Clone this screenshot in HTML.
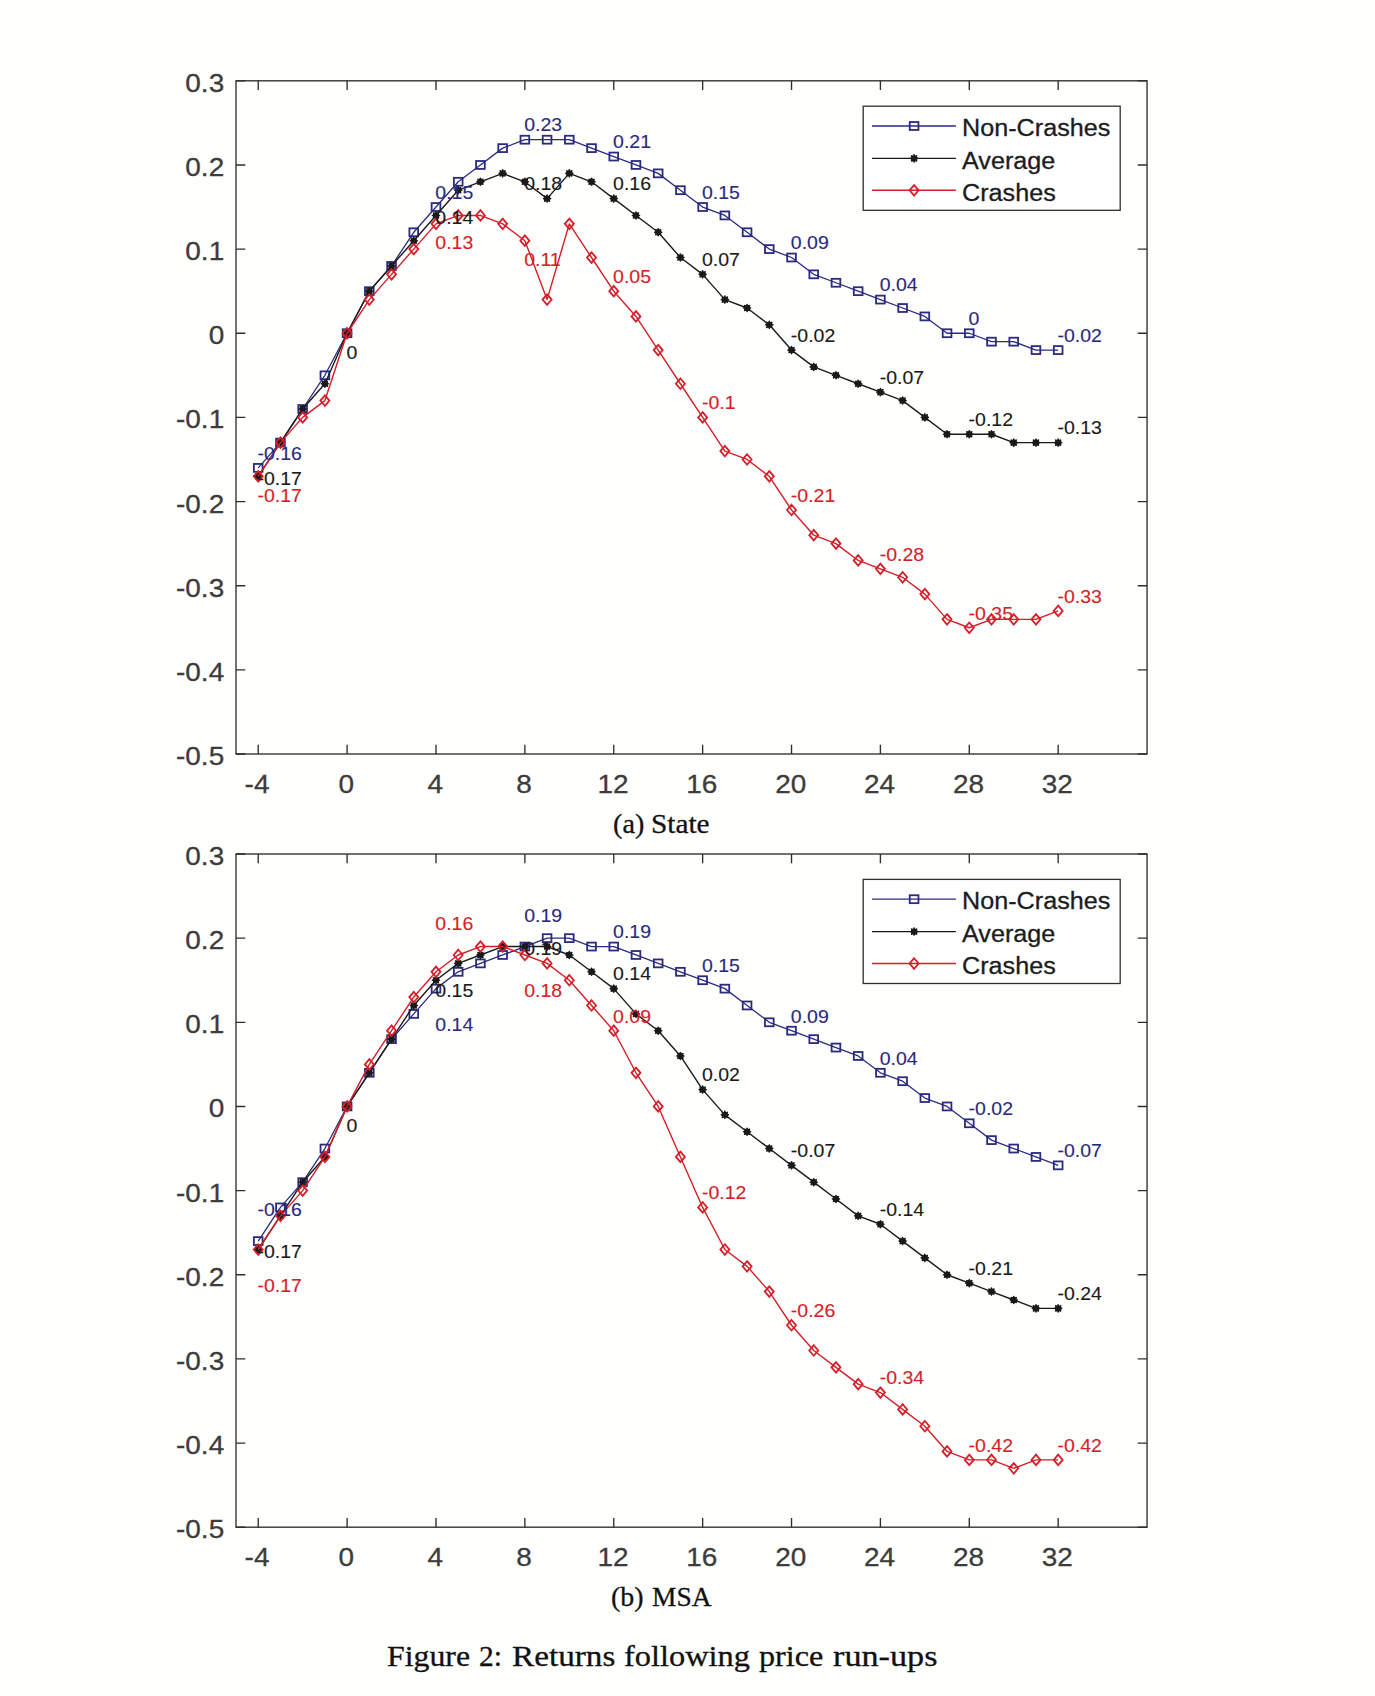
<!DOCTYPE html>
<html lang="en">
<head>
<meta charset="utf-8">
<title>Figure 2: Returns following price run-ups</title>
<style>
html,body{margin:0;padding:0;background:#fffffd;}
body{width:1375px;height:1696px;position:relative;overflow:hidden;font-family:"Liberation Serif","DejaVu Serif",serif;color:#111;}
figure{margin:0;}
svg{position:absolute;left:0;top:0;display:block;}
.cap{position:absolute;left:0;top:0;margin:0;}
.w{position:absolute;display:block;white-space:nowrap;line-height:1;transform-origin:0 0;-webkit-text-stroke:0.3px #111;}
</style>
</head>
<body>
<figure>
<svg width="1375" height="1696" viewBox="0 0 1375 1696" font-family="'Liberation Sans', Arial, Helvetica, sans-serif">
<g id="chart-a">
<polyline points="258.22,467.89 280.44,442.64 302.66,408.99 324.88,375.32 347.1,333.25 369.32,291.18 391.55,265.93 413.77,232.27 435.99,207.02 458.21,181.78 480.43,164.95 502.65,148.12 524.87,139.7 547.09,139.7 569.31,139.7 591.53,148.12 613.75,156.53 635.97,164.95 658.19,173.36 680.41,190.19 702.64,207.02 724.86,215.44 747.08,232.27 769.3,249.1 791.52,257.51 813.74,274.34 835.96,282.76 858.18,291.18 880.4,299.59 902.62,308 924.84,316.42 947.06,333.25 969.28,333.25 991.5,341.67 1013.73,341.67 1035.95,350.08 1058.17,350.08" fill="none" stroke="#2a2a80" stroke-width="1.3" stroke-linejoin="round"/>
<g fill="none" stroke="#2a2a80" stroke-width="1.8" stroke-linejoin="miter">
<rect x="253.87" y="463.94" width="8.7" height="7.9"/>
<rect x="276.09" y="438.69" width="8.7" height="7.9"/>
<rect x="298.31" y="405.04" width="8.7" height="7.9"/>
<rect x="320.53" y="371.38" width="8.7" height="7.9"/>
<rect x="342.75" y="329.3" width="8.7" height="7.9"/>
<rect x="364.97" y="287.23" width="8.7" height="7.9"/>
<rect x="387.2" y="261.98" width="8.7" height="7.9"/>
<rect x="409.42" y="228.32" width="8.7" height="7.9"/>
<rect x="431.64" y="203.07" width="8.7" height="7.9"/>
<rect x="453.86" y="177.83" width="8.7" height="7.9"/>
<rect x="476.08" y="161" width="8.7" height="7.9"/>
<rect x="498.3" y="144.17" width="8.7" height="7.9"/>
<rect x="520.52" y="135.75" width="8.7" height="7.9"/>
<rect x="542.74" y="135.75" width="8.7" height="7.9"/>
<rect x="564.96" y="135.75" width="8.7" height="7.9"/>
<rect x="587.18" y="144.17" width="8.7" height="7.9"/>
<rect x="609.4" y="152.59" width="8.7" height="7.9"/>
<rect x="631.62" y="161" width="8.7" height="7.9"/>
<rect x="653.84" y="169.41" width="8.7" height="7.9"/>
<rect x="676.06" y="186.25" width="8.7" height="7.9"/>
<rect x="698.29" y="203.07" width="8.7" height="7.9"/>
<rect x="720.51" y="211.49" width="8.7" height="7.9"/>
<rect x="742.73" y="228.32" width="8.7" height="7.9"/>
<rect x="764.95" y="245.15" width="8.7" height="7.9"/>
<rect x="787.17" y="253.56" width="8.7" height="7.9"/>
<rect x="809.39" y="270.39" width="8.7" height="7.9"/>
<rect x="831.61" y="278.81" width="8.7" height="7.9"/>
<rect x="853.83" y="287.23" width="8.7" height="7.9"/>
<rect x="876.05" y="295.64" width="8.7" height="7.9"/>
<rect x="898.27" y="304.06" width="8.7" height="7.9"/>
<rect x="920.49" y="312.47" width="8.7" height="7.9"/>
<rect x="942.71" y="329.3" width="8.7" height="7.9"/>
<rect x="964.93" y="329.3" width="8.7" height="7.9"/>
<rect x="987.15" y="337.72" width="8.7" height="7.9"/>
<rect x="1009.38" y="337.72" width="8.7" height="7.9"/>
<rect x="1031.6" y="346.13" width="8.7" height="7.9"/>
<rect x="1053.82" y="346.13" width="8.7" height="7.9"/>
</g>
<polyline points="258.22,476.31 280.44,442.64 302.66,408.99 324.88,383.74 347.1,333.25 369.32,291.18 391.55,265.93 413.77,240.69 435.99,215.44 458.21,190.19 480.43,181.78 502.65,173.36 524.87,181.78 547.09,198.61 569.31,173.36 591.53,181.78 613.75,198.61 635.97,215.44 658.19,232.27 680.41,257.51 702.64,274.34 724.86,299.59 747.08,308 769.3,324.83 791.52,350.08 813.74,366.91 835.96,375.32 858.18,383.74 880.4,392.16 902.62,400.57 924.84,417.4 947.06,434.23 969.28,434.23 991.5,434.23 1013.73,442.64 1035.95,442.64 1058.17,442.64" fill="none" stroke="#1a1a1a" stroke-width="1.4" stroke-linejoin="round"/>
<g fill="#1a1a1a" stroke="#1a1a1a" stroke-width="1.6" stroke-linecap="round">
<circle cx="258.22" cy="476.31" r="3.2" stroke="none"/><path d="M254.72 476.31L261.72 476.31M255.75 473.83L260.7 478.78M258.22 472.81L258.22 479.81M260.7 473.83L255.75 478.78"/>
<circle cx="280.44" cy="442.64" r="3.2" stroke="none"/><path d="M276.94 442.64L283.94 442.64M277.97 440.17L282.92 445.12M280.44 439.14L280.44 446.14M282.92 440.17L277.97 445.12"/>
<circle cx="302.66" cy="408.99" r="3.2" stroke="none"/><path d="M299.16 408.99L306.16 408.99M300.19 406.51L305.14 411.46M302.66 405.49L302.66 412.49M305.14 406.51L300.19 411.46"/>
<circle cx="324.88" cy="383.74" r="3.2" stroke="none"/><path d="M321.38 383.74L328.38 383.74M322.41 381.27L327.36 386.21M324.88 380.24L324.88 387.24M327.36 381.27L322.41 386.21"/>
<circle cx="347.1" cy="333.25" r="3.2" stroke="none"/><path d="M343.6 333.25L350.6 333.25M344.63 330.78L349.58 335.72M347.1 329.75L347.1 336.75M349.58 330.78L344.63 335.72"/>
<circle cx="369.32" cy="291.18" r="3.2" stroke="none"/><path d="M365.82 291.18L372.82 291.18M366.85 288.7L371.8 293.65M369.32 287.68L369.32 294.68M371.8 288.7L366.85 293.65"/>
<circle cx="391.55" cy="265.93" r="3.2" stroke="none"/><path d="M388.05 265.93L395.05 265.93M389.07 263.46L394.02 268.4M391.55 262.43L391.55 269.43M394.02 263.46L389.07 268.4"/>
<circle cx="413.77" cy="240.69" r="3.2" stroke="none"/><path d="M410.27 240.69L417.27 240.69M411.29 238.21L416.24 243.16M413.77 237.19L413.77 244.19M416.24 238.21L411.29 243.16"/>
<circle cx="435.99" cy="215.44" r="3.2" stroke="none"/><path d="M432.49 215.44L439.49 215.44M433.51 212.97L438.46 217.91M435.99 211.94L435.99 218.94M438.46 212.97L433.51 217.91"/>
<circle cx="458.21" cy="190.19" r="3.2" stroke="none"/><path d="M454.71 190.19L461.71 190.19M455.73 187.72L460.68 192.67M458.21 186.69L458.21 193.69M460.68 187.72L455.73 192.67"/>
<circle cx="480.43" cy="181.78" r="3.2" stroke="none"/><path d="M476.93 181.78L483.93 181.78M477.95 179.31L482.9 184.25M480.43 178.28L480.43 185.28M482.9 179.31L477.95 184.25"/>
<circle cx="502.65" cy="173.36" r="3.2" stroke="none"/><path d="M499.15 173.36L506.15 173.36M500.17 170.89L505.12 175.84M502.65 169.86L502.65 176.86M505.12 170.89L500.17 175.84"/>
<circle cx="524.87" cy="181.78" r="3.2" stroke="none"/><path d="M521.37 181.78L528.37 181.78M522.39 179.31L527.34 184.25M524.87 178.28L524.87 185.28M527.34 179.31L522.39 184.25"/>
<circle cx="547.09" cy="198.61" r="3.2" stroke="none"/><path d="M543.59 198.61L550.59 198.61M544.62 196.14L549.57 201.08M547.09 195.11L547.09 202.11M549.57 196.14L544.62 201.08"/>
<circle cx="569.31" cy="173.36" r="3.2" stroke="none"/><path d="M565.81 173.36L572.81 173.36M566.84 170.89L571.79 175.84M569.31 169.86L569.31 176.86M571.79 170.89L566.84 175.84"/>
<circle cx="591.53" cy="181.78" r="3.2" stroke="none"/><path d="M588.03 181.78L595.03 181.78M589.06 179.31L594.01 184.25M591.53 178.28L591.53 185.28M594.01 179.31L589.06 184.25"/>
<circle cx="613.75" cy="198.61" r="3.2" stroke="none"/><path d="M610.25 198.61L617.25 198.61M611.28 196.14L616.23 201.08M613.75 195.11L613.75 202.11M616.23 196.14L611.28 201.08"/>
<circle cx="635.97" cy="215.44" r="3.2" stroke="none"/><path d="M632.47 215.44L639.47 215.44M633.5 212.97L638.45 217.91M635.97 211.94L635.97 218.94M638.45 212.97L633.5 217.91"/>
<circle cx="658.19" cy="232.27" r="3.2" stroke="none"/><path d="M654.69 232.27L661.69 232.27M655.72 229.8L660.67 234.74M658.19 228.77L658.19 235.77M660.67 229.8L655.72 234.74"/>
<circle cx="680.41" cy="257.51" r="3.2" stroke="none"/><path d="M676.91 257.51L683.91 257.51M677.94 255.04L682.89 259.99M680.41 254.01L680.41 261.01M682.89 255.04L677.94 259.99"/>
<circle cx="702.64" cy="274.34" r="3.2" stroke="none"/><path d="M699.14 274.34L706.14 274.34M700.16 271.87L705.11 276.82M702.64 270.84L702.64 277.84M705.11 271.87L700.16 276.82"/>
<circle cx="724.86" cy="299.59" r="3.2" stroke="none"/><path d="M721.36 299.59L728.36 299.59M722.38 297.12L727.33 302.06M724.86 296.09L724.86 303.09M727.33 297.12L722.38 302.06"/>
<circle cx="747.08" cy="308" r="3.2" stroke="none"/><path d="M743.58 308L750.58 308M744.6 305.53L749.55 310.48M747.08 304.5L747.08 311.5M749.55 305.53L744.6 310.48"/>
<circle cx="769.3" cy="324.83" r="3.2" stroke="none"/><path d="M765.8 324.83L772.8 324.83M766.82 322.36L771.77 327.31M769.3 321.33L769.3 328.33M771.77 322.36L766.82 327.31"/>
<circle cx="791.52" cy="350.08" r="3.2" stroke="none"/><path d="M788.02 350.08L795.02 350.08M789.04 347.61L793.99 352.55M791.52 346.58L791.52 353.58M793.99 347.61L789.04 352.55"/>
<circle cx="813.74" cy="366.91" r="3.2" stroke="none"/><path d="M810.24 366.91L817.24 366.91M811.26 364.44L816.21 369.38M813.74 363.41L813.74 370.41M816.21 364.44L811.26 369.38"/>
<circle cx="835.96" cy="375.32" r="3.2" stroke="none"/><path d="M832.46 375.32L839.46 375.32M833.48 372.85L838.43 377.8M835.96 371.82L835.96 378.82M838.43 372.85L833.48 377.8"/>
<circle cx="858.18" cy="383.74" r="3.2" stroke="none"/><path d="M854.68 383.74L861.68 383.74M855.71 381.27L860.66 386.21M858.18 380.24L858.18 387.24M860.66 381.27L855.71 386.21"/>
<circle cx="880.4" cy="392.16" r="3.2" stroke="none"/><path d="M876.9 392.16L883.9 392.16M877.93 389.68L882.88 394.63M880.4 388.66L880.4 395.66M882.88 389.68L877.93 394.63"/>
<circle cx="902.62" cy="400.57" r="3.2" stroke="none"/><path d="M899.12 400.57L906.12 400.57M900.15 398.1L905.1 403.04M902.62 397.07L902.62 404.07M905.1 398.1L900.15 403.04"/>
<circle cx="924.84" cy="417.4" r="3.2" stroke="none"/><path d="M921.34 417.4L928.34 417.4M922.37 414.93L927.32 419.87M924.84 413.9L924.84 420.9M927.32 414.93L922.37 419.87"/>
<circle cx="947.06" cy="434.23" r="3.2" stroke="none"/><path d="M943.56 434.23L950.56 434.23M944.59 431.76L949.54 436.7M947.06 430.73L947.06 437.73M949.54 431.76L944.59 436.7"/>
<circle cx="969.28" cy="434.23" r="3.2" stroke="none"/><path d="M965.78 434.23L972.78 434.23M966.81 431.76L971.76 436.7M969.28 430.73L969.28 437.73M971.76 431.76L966.81 436.7"/>
<circle cx="991.5" cy="434.23" r="3.2" stroke="none"/><path d="M988 434.23L995 434.23M989.03 431.76L993.98 436.7M991.5 430.73L991.5 437.73M993.98 431.76L989.03 436.7"/>
<circle cx="1013.73" cy="442.64" r="3.2" stroke="none"/><path d="M1010.23 442.64L1017.23 442.64M1011.25 440.17L1016.2 445.12M1013.73 439.14L1013.73 446.14M1016.2 440.17L1011.25 445.12"/>
<circle cx="1035.95" cy="442.64" r="3.2" stroke="none"/><path d="M1032.45 442.64L1039.45 442.64M1033.47 440.17L1038.42 445.12M1035.95 439.14L1035.95 446.14M1038.42 440.17L1033.47 445.12"/>
<circle cx="1058.17" cy="442.64" r="3.2" stroke="none"/><path d="M1054.67 442.64L1061.67 442.64M1055.69 440.17L1060.64 445.12M1058.17 439.14L1058.17 446.14M1060.64 440.17L1055.69 445.12"/>
</g>
<polyline points="258.22,476.31 280.44,442.64 302.66,417.4 324.88,400.57 347.1,333.25 369.32,299.59 391.55,274.34 413.77,249.1 435.99,223.85 458.21,215.44 480.43,215.44 502.65,223.85 524.87,240.69 547.09,299.59 569.31,223.85 591.53,257.51 613.75,291.18 635.97,316.42 658.19,350.08 680.41,383.74 702.64,417.4 724.86,451.06 747.08,459.47 769.3,476.31 791.52,509.97 813.74,535.21 835.96,543.62 858.18,560.46 880.4,568.87 902.62,577.28 924.84,594.11 947.06,619.36 969.28,627.77 991.5,619.36 1013.73,619.36 1035.95,619.36 1058.17,610.94" fill="none" stroke="#d61d28" stroke-width="1.4" stroke-linejoin="round"/>
<g fill="none" stroke="#d61d28" stroke-width="1.8" stroke-linejoin="miter">
<path d="M258.22 471.06L262.72 476.31L258.22 481.56L253.72 476.31Z"/>
<path d="M280.44 437.39L284.94 442.64L280.44 447.89L275.94 442.64Z"/>
<path d="M302.66 412.15L307.16 417.4L302.66 422.65L298.16 417.4Z"/>
<path d="M324.88 395.32L329.38 400.57L324.88 405.82L320.38 400.57Z"/>
<path d="M347.1 328L351.6 333.25L347.1 338.5L342.6 333.25Z"/>
<path d="M369.32 294.34L373.82 299.59L369.32 304.84L364.82 299.59Z"/>
<path d="M391.55 269.09L396.05 274.34L391.55 279.59L387.05 274.34Z"/>
<path d="M413.77 243.85L418.27 249.1L413.77 254.35L409.27 249.1Z"/>
<path d="M435.99 218.6L440.49 223.85L435.99 229.1L431.49 223.85Z"/>
<path d="M458.21 210.19L462.71 215.44L458.21 220.69L453.71 215.44Z"/>
<path d="M480.43 210.19L484.93 215.44L480.43 220.69L475.93 215.44Z"/>
<path d="M502.65 218.6L507.15 223.85L502.65 229.1L498.15 223.85Z"/>
<path d="M524.87 235.44L529.37 240.69L524.87 245.94L520.37 240.69Z"/>
<path d="M547.09 294.34L551.59 299.59L547.09 304.84L542.59 299.59Z"/>
<path d="M569.31 218.6L573.81 223.85L569.31 229.1L564.81 223.85Z"/>
<path d="M591.53 252.26L596.03 257.51L591.53 262.76L587.03 257.51Z"/>
<path d="M613.75 285.93L618.25 291.18L613.75 296.43L609.25 291.18Z"/>
<path d="M635.97 311.17L640.47 316.42L635.97 321.67L631.47 316.42Z"/>
<path d="M658.19 344.83L662.69 350.08L658.19 355.33L653.69 350.08Z"/>
<path d="M680.41 378.49L684.91 383.74L680.41 388.99L675.91 383.74Z"/>
<path d="M702.64 412.15L707.14 417.4L702.64 422.65L698.14 417.4Z"/>
<path d="M724.86 445.81L729.36 451.06L724.86 456.31L720.36 451.06Z"/>
<path d="M747.08 454.22L751.58 459.47L747.08 464.72L742.58 459.47Z"/>
<path d="M769.3 471.06L773.8 476.31L769.3 481.56L764.8 476.31Z"/>
<path d="M791.52 504.72L796.02 509.97L791.52 515.22L787.02 509.97Z"/>
<path d="M813.74 529.96L818.24 535.21L813.74 540.46L809.24 535.21Z"/>
<path d="M835.96 538.38L840.46 543.62L835.96 548.88L831.46 543.62Z"/>
<path d="M858.18 555.21L862.68 560.46L858.18 565.71L853.68 560.46Z"/>
<path d="M880.4 563.62L884.9 568.87L880.4 574.12L875.9 568.87Z"/>
<path d="M902.62 572.03L907.12 577.28L902.62 582.53L898.12 577.28Z"/>
<path d="M924.84 588.86L929.34 594.11L924.84 599.36L920.34 594.11Z"/>
<path d="M947.06 614.11L951.56 619.36L947.06 624.61L942.56 619.36Z"/>
<path d="M969.28 622.52L973.78 627.77L969.28 633.02L964.78 627.77Z"/>
<path d="M991.5 614.11L996 619.36L991.5 624.61L987 619.36Z"/>
<path d="M1013.73 614.11L1018.23 619.36L1013.73 624.61L1009.23 619.36Z"/>
<path d="M1035.95 614.11L1040.45 619.36L1035.95 624.61L1031.45 619.36Z"/>
<path d="M1058.17 605.69L1062.67 610.94L1058.17 616.19L1053.67 610.94Z"/>
</g>
<g class="lbl">
<text transform="translate(257.52 459.67) scale(1.06 1)" font-size="18.4" fill="#2a2a80" stroke="#2a2a80" stroke-width="0.12" text-anchor="start">-0.16</text>
<text transform="translate(435.29 198.81) scale(1.06 1)" font-size="18.4" fill="#2a2a80" stroke="#2a2a80" stroke-width="0.12" text-anchor="start">0.15</text>
<text transform="translate(524.17 131.49) scale(1.06 1)" font-size="18.4" fill="#2a2a80" stroke="#2a2a80" stroke-width="0.12" text-anchor="start">0.23</text>
<text transform="translate(613.05 148.32) scale(1.06 1)" font-size="18.4" fill="#2a2a80" stroke="#2a2a80" stroke-width="0.12" text-anchor="start">0.21</text>
<text transform="translate(701.94 198.81) scale(1.06 1)" font-size="18.4" fill="#2a2a80" stroke="#2a2a80" stroke-width="0.12" text-anchor="start">0.15</text>
<text transform="translate(790.82 249.3) scale(1.06 1)" font-size="18.4" fill="#2a2a80" stroke="#2a2a80" stroke-width="0.12" text-anchor="start">0.09</text>
<text transform="translate(879.7 291.38) scale(1.06 1)" font-size="18.4" fill="#2a2a80" stroke="#2a2a80" stroke-width="0.12" text-anchor="start">0.04</text>
<text transform="translate(968.58 325.03) scale(1.06 1)" font-size="18.4" fill="#2a2a80" stroke="#2a2a80" stroke-width="0.12" text-anchor="start">0</text>
<text transform="translate(1057.47 341.87) scale(1.06 1)" font-size="18.4" fill="#2a2a80" stroke="#2a2a80" stroke-width="0.12" text-anchor="start">-0.02</text>
<text transform="translate(257.52 484.92) scale(1.06 1)" font-size="18.4" fill="#1a1a1a" stroke="#1a1a1a" stroke-width="0.12" text-anchor="start">-0.17</text>
<text transform="translate(346.4 358.69) scale(1.06 1)" font-size="18.4" fill="#1a1a1a" stroke="#1a1a1a" stroke-width="0.12" text-anchor="start">0</text>
<text transform="translate(435.29 224.05) scale(1.06 1)" font-size="18.4" fill="#1a1a1a" stroke="#1a1a1a" stroke-width="0.12" text-anchor="start">0.14</text>
<text transform="translate(524.17 190.39) scale(1.06 1)" font-size="18.4" fill="#1a1a1a" stroke="#1a1a1a" stroke-width="0.12" text-anchor="start">0.18</text>
<text transform="translate(613.05 189.9) scale(1.06 1)" font-size="18.4" fill="#1a1a1a" stroke="#1a1a1a" stroke-width="0.12" text-anchor="start">0.16</text>
<text transform="translate(701.94 266.13) scale(1.06 1)" font-size="18.4" fill="#1a1a1a" stroke="#1a1a1a" stroke-width="0.12" text-anchor="start">0.07</text>
<text transform="translate(790.82 341.87) scale(1.06 1)" font-size="18.4" fill="#1a1a1a" stroke="#1a1a1a" stroke-width="0.12" text-anchor="start">-0.02</text>
<text transform="translate(879.7 383.94) scale(1.06 1)" font-size="18.4" fill="#1a1a1a" stroke="#1a1a1a" stroke-width="0.12" text-anchor="start">-0.07</text>
<text transform="translate(968.58 426.01) scale(1.06 1)" font-size="18.4" fill="#1a1a1a" stroke="#1a1a1a" stroke-width="0.12" text-anchor="start">-0.12</text>
<text transform="translate(1057.47 434.43) scale(1.06 1)" font-size="18.4" fill="#1a1a1a" stroke="#1a1a1a" stroke-width="0.12" text-anchor="start">-0.13</text>
<text transform="translate(257.52 501.75) scale(1.06 1)" font-size="18.4" fill="#d61d28" stroke="#d61d28" stroke-width="0.12" text-anchor="start">-0.17</text>
<text transform="translate(435.29 249.3) scale(1.06 1)" font-size="18.4" fill="#d61d28" stroke="#d61d28" stroke-width="0.12" text-anchor="start">0.13</text>
<text transform="translate(524.17 266.13) scale(1.06 1)" font-size="18.4" fill="#d61d28" stroke="#d61d28" stroke-width="0.12" text-anchor="start">0.11</text>
<text transform="translate(613.05 282.96) scale(1.06 1)" font-size="18.4" fill="#d61d28" stroke="#d61d28" stroke-width="0.12" text-anchor="start">0.05</text>
<text transform="translate(701.94 409.19) scale(1.06 1)" font-size="18.4" fill="#d61d28" stroke="#d61d28" stroke-width="0.12" text-anchor="start">-0.1</text>
<text transform="translate(790.82 501.75) scale(1.06 1)" font-size="18.4" fill="#d61d28" stroke="#d61d28" stroke-width="0.12" text-anchor="start">-0.21</text>
<text transform="translate(879.7 560.66) scale(1.06 1)" font-size="18.4" fill="#d61d28" stroke="#d61d28" stroke-width="0.12" text-anchor="start">-0.28</text>
<text transform="translate(968.58 619.56) scale(1.06 1)" font-size="18.4" fill="#d61d28" stroke="#d61d28" stroke-width="0.12" text-anchor="start">-0.35</text>
<text transform="translate(1057.47 602.73) scale(1.06 1)" font-size="18.4" fill="#d61d28" stroke="#d61d28" stroke-width="0.12" text-anchor="start">-0.33</text>
</g>
<rect x="236.0" y="80.8" width="911.05" height="673.2" fill="none" stroke="#2e2e2e" stroke-width="1.35"/>
<path d="M258.22 754v-9.3M258.22 80.8v9.3M347.1 754v-9.3M347.1 80.8v9.3M435.99 754v-9.3M435.99 80.8v9.3M524.87 754v-9.3M524.87 80.8v9.3M613.75 754v-9.3M613.75 80.8v9.3M702.64 754v-9.3M702.64 80.8v9.3M791.52 754v-9.3M791.52 80.8v9.3M880.4 754v-9.3M880.4 80.8v9.3M969.28 754v-9.3M969.28 80.8v9.3M1058.17 754v-9.3M1058.17 80.8v9.3M236.0 80.8h9.3M1147.05 80.8h-9.3M236.0 164.95h9.3M1147.05 164.95h-9.3M236.0 249.1h9.3M1147.05 249.1h-9.3M236.0 333.25h9.3M1147.05 333.25h-9.3M236.0 417.4h9.3M1147.05 417.4h-9.3M236.0 501.55h9.3M1147.05 501.55h-9.3M236.0 585.7h9.3M1147.05 585.7h-9.3M236.0 669.85h9.3M1147.05 669.85h-9.3M236.0 754h9.3M1147.05 754h-9.3" fill="none" stroke="#2e2e2e" stroke-width="1.35"/>
<g class="tick">
<text transform="translate(257.02 792.9) scale(1.076 1)" font-size="26.0" fill="#3c3c3c" stroke="#3c3c3c" stroke-width="0.3" text-anchor="middle">-4</text>
<text transform="translate(346.3 792.9) scale(1.076 1)" font-size="26.0" fill="#3c3c3c" stroke="#3c3c3c" stroke-width="0.3" text-anchor="middle">0</text>
<text transform="translate(435.19 792.9) scale(1.076 1)" font-size="26.0" fill="#3c3c3c" stroke="#3c3c3c" stroke-width="0.3" text-anchor="middle">4</text>
<text transform="translate(524.07 792.9) scale(1.076 1)" font-size="26.0" fill="#3c3c3c" stroke="#3c3c3c" stroke-width="0.3" text-anchor="middle">8</text>
<text transform="translate(612.95 792.9) scale(1.076 1)" font-size="26.0" fill="#3c3c3c" stroke="#3c3c3c" stroke-width="0.3" text-anchor="middle">12</text>
<text transform="translate(701.84 792.9) scale(1.076 1)" font-size="26.0" fill="#3c3c3c" stroke="#3c3c3c" stroke-width="0.3" text-anchor="middle">16</text>
<text transform="translate(790.72 792.9) scale(1.076 1)" font-size="26.0" fill="#3c3c3c" stroke="#3c3c3c" stroke-width="0.3" text-anchor="middle">20</text>
<text transform="translate(879.6 792.9) scale(1.076 1)" font-size="26.0" fill="#3c3c3c" stroke="#3c3c3c" stroke-width="0.3" text-anchor="middle">24</text>
<text transform="translate(968.48 792.9) scale(1.076 1)" font-size="26.0" fill="#3c3c3c" stroke="#3c3c3c" stroke-width="0.3" text-anchor="middle">28</text>
<text transform="translate(1057.37 792.9) scale(1.076 1)" font-size="26.0" fill="#3c3c3c" stroke="#3c3c3c" stroke-width="0.3" text-anchor="middle">32</text>
<text transform="translate(224.2 91.8) scale(1.076 1)" font-size="26.0" fill="#3c3c3c" stroke="#3c3c3c" stroke-width="0.3" text-anchor="end">0.3</text>
<text transform="translate(224.2 175.95) scale(1.076 1)" font-size="26.0" fill="#3c3c3c" stroke="#3c3c3c" stroke-width="0.3" text-anchor="end">0.2</text>
<text transform="translate(224.2 260.1) scale(1.076 1)" font-size="26.0" fill="#3c3c3c" stroke="#3c3c3c" stroke-width="0.3" text-anchor="end">0.1</text>
<text transform="translate(224.2 344.25) scale(1.076 1)" font-size="26.0" fill="#3c3c3c" stroke="#3c3c3c" stroke-width="0.3" text-anchor="end">0</text>
<text transform="translate(224.2 428.4) scale(1.076 1)" font-size="26.0" fill="#3c3c3c" stroke="#3c3c3c" stroke-width="0.3" text-anchor="end">-0.1</text>
<text transform="translate(224.2 512.55) scale(1.076 1)" font-size="26.0" fill="#3c3c3c" stroke="#3c3c3c" stroke-width="0.3" text-anchor="end">-0.2</text>
<text transform="translate(224.2 596.7) scale(1.076 1)" font-size="26.0" fill="#3c3c3c" stroke="#3c3c3c" stroke-width="0.3" text-anchor="end">-0.3</text>
<text transform="translate(224.2 680.85) scale(1.076 1)" font-size="26.0" fill="#3c3c3c" stroke="#3c3c3c" stroke-width="0.3" text-anchor="end">-0.4</text>
<text transform="translate(224.2 765) scale(1.076 1)" font-size="26.0" fill="#3c3c3c" stroke="#3c3c3c" stroke-width="0.3" text-anchor="end">-0.5</text>
</g>
<rect x="863.2" y="106.2" width="257" height="104.1" fill="#fff" stroke="#2e2e2e" stroke-width="1.3"/>
<line x1="872" y1="126" x2="955.9" y2="126" stroke="#2a2a80" stroke-width="1.3"/>
<g fill="none" stroke="#2a2a80" stroke-width="1.8"><rect x="909.75" y="122.05" width="8.7" height="7.9"/></g>
<text transform="translate(962 135.8) scale(1.095 1)" font-size="23.0" fill="#1c1c1c" stroke="#1c1c1c" stroke-width="0.3" text-anchor="start">Non-Crashes</text>
<line x1="872" y1="158.4" x2="955.9" y2="158.4" stroke="#1a1a1a" stroke-width="1.4"/>
<g fill="#1a1a1a" stroke="#1a1a1a" stroke-width="1.6" stroke-linecap="round"><circle cx="914.1" cy="158.4" r="3.2" stroke="none"/><path d="M910.6 158.4L917.6 158.4M911.63 155.93L916.57 160.87M914.1 154.9L914.1 161.9M916.57 155.93L911.63 160.87"/></g>
<text transform="translate(962 168.7) scale(1.095 1)" font-size="23.0" fill="#1c1c1c" stroke="#1c1c1c" stroke-width="0.3" text-anchor="start">Average</text>
<line x1="872" y1="190.3" x2="955.9" y2="190.3" stroke="#d61d28" stroke-width="1.4"/>
<g fill="none" stroke="#d61d28" stroke-width="1.8"><path d="M914.1 185.05L918.6 190.3L914.1 195.55L909.6 190.3Z"/></g>
<text transform="translate(962 201) scale(1.095 1)" font-size="23.0" fill="#1c1c1c" stroke="#1c1c1c" stroke-width="0.3" text-anchor="start">Crashes</text>
</g>
<g id="chart-b">
<polyline points="258.22,1241.09 280.44,1207.43 302.66,1182.18 324.88,1148.53 347.1,1106.45 369.32,1072.79 391.55,1039.13 413.77,1013.88 435.99,988.64 458.21,971.81 480.43,963.39 502.65,954.98 524.87,946.56 547.09,938.15 569.31,938.15 591.53,946.56 613.75,946.56 635.97,954.98 658.19,963.39 680.41,971.81 702.64,980.23 724.86,988.64 747.08,1005.47 769.3,1022.3 791.52,1030.71 813.74,1039.13 835.96,1047.55 858.18,1055.96 880.4,1072.79 902.62,1081.2 924.84,1098.04 947.06,1106.45 969.28,1123.28 991.5,1140.11 1013.73,1148.53 1035.95,1156.94 1058.17,1165.36" fill="none" stroke="#2a2a80" stroke-width="1.3" stroke-linejoin="round"/>
<g fill="none" stroke="#2a2a80" stroke-width="1.8" stroke-linejoin="miter">
<rect x="253.87" y="1237.14" width="8.7" height="7.9"/>
<rect x="276.09" y="1203.48" width="8.7" height="7.9"/>
<rect x="298.31" y="1178.23" width="8.7" height="7.9"/>
<rect x="320.53" y="1144.58" width="8.7" height="7.9"/>
<rect x="342.75" y="1102.5" width="8.7" height="7.9"/>
<rect x="364.97" y="1068.84" width="8.7" height="7.9"/>
<rect x="387.2" y="1035.18" width="8.7" height="7.9"/>
<rect x="409.42" y="1009.93" width="8.7" height="7.9"/>
<rect x="431.64" y="984.69" width="8.7" height="7.9"/>
<rect x="453.86" y="967.86" width="8.7" height="7.9"/>
<rect x="476.08" y="959.44" width="8.7" height="7.9"/>
<rect x="498.3" y="951.03" width="8.7" height="7.9"/>
<rect x="520.52" y="942.61" width="8.7" height="7.9"/>
<rect x="542.74" y="934.2" width="8.7" height="7.9"/>
<rect x="564.96" y="934.2" width="8.7" height="7.9"/>
<rect x="587.18" y="942.61" width="8.7" height="7.9"/>
<rect x="609.4" y="942.61" width="8.7" height="7.9"/>
<rect x="631.62" y="951.03" width="8.7" height="7.9"/>
<rect x="653.84" y="959.44" width="8.7" height="7.9"/>
<rect x="676.06" y="967.86" width="8.7" height="7.9"/>
<rect x="698.29" y="976.27" width="8.7" height="7.9"/>
<rect x="720.51" y="984.69" width="8.7" height="7.9"/>
<rect x="742.73" y="1001.52" width="8.7" height="7.9"/>
<rect x="764.95" y="1018.35" width="8.7" height="7.9"/>
<rect x="787.17" y="1026.76" width="8.7" height="7.9"/>
<rect x="809.39" y="1035.18" width="8.7" height="7.9"/>
<rect x="831.61" y="1043.6" width="8.7" height="7.9"/>
<rect x="853.83" y="1052.01" width="8.7" height="7.9"/>
<rect x="876.05" y="1068.84" width="8.7" height="7.9"/>
<rect x="898.27" y="1077.25" width="8.7" height="7.9"/>
<rect x="920.49" y="1094.09" width="8.7" height="7.9"/>
<rect x="942.71" y="1102.5" width="8.7" height="7.9"/>
<rect x="964.93" y="1119.33" width="8.7" height="7.9"/>
<rect x="987.15" y="1136.16" width="8.7" height="7.9"/>
<rect x="1009.38" y="1144.58" width="8.7" height="7.9"/>
<rect x="1031.6" y="1152.99" width="8.7" height="7.9"/>
<rect x="1053.82" y="1161.4" width="8.7" height="7.9"/>
</g>
<polyline points="258.22,1249.51 280.44,1215.85 302.66,1182.18 324.88,1156.94 347.1,1106.45 369.32,1072.79 391.55,1039.13 413.77,1005.47 435.99,980.23 458.21,963.39 480.43,954.98 502.65,946.56 524.87,946.56 547.09,946.56 569.31,954.98 591.53,971.81 613.75,988.64 635.97,1013.88 658.19,1030.71 680.41,1055.96 702.64,1089.62 724.86,1114.87 747.08,1131.69 769.3,1148.53 791.52,1165.36 813.74,1182.18 835.96,1199.01 858.18,1215.85 880.4,1224.26 902.62,1241.09 924.84,1257.92 947.06,1274.75 969.28,1283.16 991.5,1291.58 1013.73,1299.99 1035.95,1308.41 1058.17,1308.41" fill="none" stroke="#1a1a1a" stroke-width="1.4" stroke-linejoin="round"/>
<g fill="#1a1a1a" stroke="#1a1a1a" stroke-width="1.6" stroke-linecap="round">
<circle cx="258.22" cy="1249.51" r="3.2" stroke="none"/><path d="M254.72 1249.51L261.72 1249.51M255.75 1247.03L260.7 1251.98M258.22 1246.01L258.22 1253.01M260.7 1247.03L255.75 1251.98"/>
<circle cx="280.44" cy="1215.85" r="3.2" stroke="none"/><path d="M276.94 1215.85L283.94 1215.85M277.97 1213.37L282.92 1218.32M280.44 1212.35L280.44 1219.35M282.92 1213.37L277.97 1218.32"/>
<circle cx="302.66" cy="1182.18" r="3.2" stroke="none"/><path d="M299.16 1182.18L306.16 1182.18M300.19 1179.71L305.14 1184.66M302.66 1178.68L302.66 1185.68M305.14 1179.71L300.19 1184.66"/>
<circle cx="324.88" cy="1156.94" r="3.2" stroke="none"/><path d="M321.38 1156.94L328.38 1156.94M322.41 1154.47L327.36 1159.41M324.88 1153.44L324.88 1160.44M327.36 1154.47L322.41 1159.41"/>
<circle cx="347.1" cy="1106.45" r="3.2" stroke="none"/><path d="M343.6 1106.45L350.6 1106.45M344.63 1103.98L349.58 1108.92M347.1 1102.95L347.1 1109.95M349.58 1103.98L344.63 1108.92"/>
<circle cx="369.32" cy="1072.79" r="3.2" stroke="none"/><path d="M365.82 1072.79L372.82 1072.79M366.85 1070.32L371.8 1075.26M369.32 1069.29L369.32 1076.29M371.8 1070.32L366.85 1075.26"/>
<circle cx="391.55" cy="1039.13" r="3.2" stroke="none"/><path d="M388.05 1039.13L395.05 1039.13M389.07 1036.66L394.02 1041.6M391.55 1035.63L391.55 1042.63M394.02 1036.66L389.07 1041.6"/>
<circle cx="413.77" cy="1005.47" r="3.2" stroke="none"/><path d="M410.27 1005.47L417.27 1005.47M411.29 1003L416.24 1007.94M413.77 1001.97L413.77 1008.97M416.24 1003L411.29 1007.94"/>
<circle cx="435.99" cy="980.23" r="3.2" stroke="none"/><path d="M432.49 980.23L439.49 980.23M433.51 977.75L438.46 982.7M435.99 976.73L435.99 983.73M438.46 977.75L433.51 982.7"/>
<circle cx="458.21" cy="963.39" r="3.2" stroke="none"/><path d="M454.71 963.39L461.71 963.39M455.73 960.92L460.68 965.87M458.21 959.89L458.21 966.89M460.68 960.92L455.73 965.87"/>
<circle cx="480.43" cy="954.98" r="3.2" stroke="none"/><path d="M476.93 954.98L483.93 954.98M477.95 952.51L482.9 957.45M480.43 951.48L480.43 958.48M482.9 952.51L477.95 957.45"/>
<circle cx="502.65" cy="946.56" r="3.2" stroke="none"/><path d="M499.15 946.56L506.15 946.56M500.17 944.09L505.12 949.04M502.65 943.06L502.65 950.06M505.12 944.09L500.17 949.04"/>
<circle cx="524.87" cy="946.56" r="3.2" stroke="none"/><path d="M521.37 946.56L528.37 946.56M522.39 944.09L527.34 949.04M524.87 943.06L524.87 950.06M527.34 944.09L522.39 949.04"/>
<circle cx="547.09" cy="946.56" r="3.2" stroke="none"/><path d="M543.59 946.56L550.59 946.56M544.62 944.09L549.57 949.04M547.09 943.06L547.09 950.06M549.57 944.09L544.62 949.04"/>
<circle cx="569.31" cy="954.98" r="3.2" stroke="none"/><path d="M565.81 954.98L572.81 954.98M566.84 952.51L571.79 957.45M569.31 951.48L569.31 958.48M571.79 952.51L566.84 957.45"/>
<circle cx="591.53" cy="971.81" r="3.2" stroke="none"/><path d="M588.03 971.81L595.03 971.81M589.06 969.34L594.01 974.28M591.53 968.31L591.53 975.31M594.01 969.34L589.06 974.28"/>
<circle cx="613.75" cy="988.64" r="3.2" stroke="none"/><path d="M610.25 988.64L617.25 988.64M611.28 986.17L616.23 991.11M613.75 985.14L613.75 992.14M616.23 986.17L611.28 991.11"/>
<circle cx="635.97" cy="1013.88" r="3.2" stroke="none"/><path d="M632.47 1013.88L639.47 1013.88M633.5 1011.41L638.45 1016.36M635.97 1010.38L635.97 1017.38M638.45 1011.41L633.5 1016.36"/>
<circle cx="658.19" cy="1030.71" r="3.2" stroke="none"/><path d="M654.69 1030.71L661.69 1030.71M655.72 1028.24L660.67 1033.19M658.19 1027.21L658.19 1034.21M660.67 1028.24L655.72 1033.19"/>
<circle cx="680.41" cy="1055.96" r="3.2" stroke="none"/><path d="M676.91 1055.96L683.91 1055.96M677.94 1053.49L682.89 1058.43M680.41 1052.46L680.41 1059.46M682.89 1053.49L677.94 1058.43"/>
<circle cx="702.64" cy="1089.62" r="3.2" stroke="none"/><path d="M699.14 1089.62L706.14 1089.62M700.16 1087.15L705.11 1092.09M702.64 1086.12L702.64 1093.12M705.11 1087.15L700.16 1092.09"/>
<circle cx="724.86" cy="1114.87" r="3.2" stroke="none"/><path d="M721.36 1114.87L728.36 1114.87M722.38 1112.39L727.33 1117.34M724.86 1111.37L724.86 1118.37M727.33 1112.39L722.38 1117.34"/>
<circle cx="747.08" cy="1131.69" r="3.2" stroke="none"/><path d="M743.58 1131.69L750.58 1131.69M744.6 1129.22L749.55 1134.17M747.08 1128.19L747.08 1135.19M749.55 1129.22L744.6 1134.17"/>
<circle cx="769.3" cy="1148.53" r="3.2" stroke="none"/><path d="M765.8 1148.53L772.8 1148.53M766.82 1146.05L771.77 1151M769.3 1145.03L769.3 1152.03M771.77 1146.05L766.82 1151"/>
<circle cx="791.52" cy="1165.36" r="3.2" stroke="none"/><path d="M788.02 1165.36L795.02 1165.36M789.04 1162.88L793.99 1167.83M791.52 1161.86L791.52 1168.86M793.99 1162.88L789.04 1167.83"/>
<circle cx="813.74" cy="1182.18" r="3.2" stroke="none"/><path d="M810.24 1182.18L817.24 1182.18M811.26 1179.71L816.21 1184.66M813.74 1178.68L813.74 1185.68M816.21 1179.71L811.26 1184.66"/>
<circle cx="835.96" cy="1199.01" r="3.2" stroke="none"/><path d="M832.46 1199.01L839.46 1199.01M833.48 1196.54L838.43 1201.49M835.96 1195.51L835.96 1202.51M838.43 1196.54L833.48 1201.49"/>
<circle cx="858.18" cy="1215.85" r="3.2" stroke="none"/><path d="M854.68 1215.85L861.68 1215.85M855.71 1213.37L860.66 1218.32M858.18 1212.35L858.18 1219.35M860.66 1213.37L855.71 1218.32"/>
<circle cx="880.4" cy="1224.26" r="3.2" stroke="none"/><path d="M876.9 1224.26L883.9 1224.26M877.93 1221.79L882.88 1226.73M880.4 1220.76L880.4 1227.76M882.88 1221.79L877.93 1226.73"/>
<circle cx="902.62" cy="1241.09" r="3.2" stroke="none"/><path d="M899.12 1241.09L906.12 1241.09M900.15 1238.62L905.1 1243.56M902.62 1237.59L902.62 1244.59M905.1 1238.62L900.15 1243.56"/>
<circle cx="924.84" cy="1257.92" r="3.2" stroke="none"/><path d="M921.34 1257.92L928.34 1257.92M922.37 1255.45L927.32 1260.39M924.84 1254.42L924.84 1261.42M927.32 1255.45L922.37 1260.39"/>
<circle cx="947.06" cy="1274.75" r="3.2" stroke="none"/><path d="M943.56 1274.75L950.56 1274.75M944.59 1272.28L949.54 1277.22M947.06 1271.25L947.06 1278.25M949.54 1272.28L944.59 1277.22"/>
<circle cx="969.28" cy="1283.16" r="3.2" stroke="none"/><path d="M965.78 1283.16L972.78 1283.16M966.81 1280.69L971.76 1285.64M969.28 1279.66L969.28 1286.66M971.76 1280.69L966.81 1285.64"/>
<circle cx="991.5" cy="1291.58" r="3.2" stroke="none"/><path d="M988 1291.58L995 1291.58M989.03 1289.11L993.98 1294.05M991.5 1288.08L991.5 1295.08M993.98 1289.11L989.03 1294.05"/>
<circle cx="1013.73" cy="1299.99" r="3.2" stroke="none"/><path d="M1010.23 1299.99L1017.23 1299.99M1011.25 1297.52L1016.2 1302.47M1013.73 1296.49L1013.73 1303.49M1016.2 1297.52L1011.25 1302.47"/>
<circle cx="1035.95" cy="1308.41" r="3.2" stroke="none"/><path d="M1032.45 1308.41L1039.45 1308.41M1033.47 1305.94L1038.42 1310.88M1035.95 1304.91L1035.95 1311.91M1038.42 1305.94L1033.47 1310.88"/>
<circle cx="1058.17" cy="1308.41" r="3.2" stroke="none"/><path d="M1054.67 1308.41L1061.67 1308.41M1055.69 1305.94L1060.64 1310.88M1058.17 1304.91L1058.17 1311.91M1060.64 1305.94L1055.69 1310.88"/>
</g>
<polyline points="258.22,1249.51 280.44,1215.85 302.66,1190.6 324.88,1156.94 347.1,1106.45 369.32,1064.38 391.55,1030.71 413.77,997.05 435.99,971.81 458.21,954.98 480.43,946.56 502.65,946.56 524.87,954.98 547.09,963.39 569.31,980.23 591.53,1005.47 613.75,1030.71 635.97,1072.79 658.19,1106.45 680.41,1156.94 702.64,1207.43 724.86,1249.51 747.08,1266.34 769.3,1291.58 791.52,1325.24 813.74,1350.48 835.96,1367.32 858.18,1384.14 880.4,1392.56 902.62,1409.39 924.84,1426.22 947.06,1451.46 969.28,1459.88 991.5,1459.88 1013.73,1468.3 1035.95,1459.88 1058.17,1459.88" fill="none" stroke="#d61d28" stroke-width="1.4" stroke-linejoin="round"/>
<g fill="none" stroke="#d61d28" stroke-width="1.8" stroke-linejoin="miter">
<path d="M258.22 1244.26L262.72 1249.51L258.22 1254.76L253.72 1249.51Z"/>
<path d="M280.44 1210.6L284.94 1215.85L280.44 1221.1L275.94 1215.85Z"/>
<path d="M302.66 1185.35L307.16 1190.6L302.66 1195.85L298.16 1190.6Z"/>
<path d="M324.88 1151.69L329.38 1156.94L324.88 1162.19L320.38 1156.94Z"/>
<path d="M347.1 1101.2L351.6 1106.45L347.1 1111.7L342.6 1106.45Z"/>
<path d="M369.32 1059.12L373.82 1064.38L369.32 1069.62L364.82 1064.38Z"/>
<path d="M391.55 1025.46L396.05 1030.71L391.55 1035.96L387.05 1030.71Z"/>
<path d="M413.77 991.8L418.27 997.05L413.77 1002.3L409.27 997.05Z"/>
<path d="M435.99 966.56L440.49 971.81L435.99 977.06L431.49 971.81Z"/>
<path d="M458.21 949.73L462.71 954.98L458.21 960.23L453.71 954.98Z"/>
<path d="M480.43 941.31L484.93 946.56L480.43 951.81L475.93 946.56Z"/>
<path d="M502.65 941.31L507.15 946.56L502.65 951.81L498.15 946.56Z"/>
<path d="M524.87 949.73L529.37 954.98L524.87 960.23L520.37 954.98Z"/>
<path d="M547.09 958.14L551.59 963.39L547.09 968.64L542.59 963.39Z"/>
<path d="M569.31 974.98L573.81 980.23L569.31 985.48L564.81 980.23Z"/>
<path d="M591.53 1000.22L596.03 1005.47L591.53 1010.72L587.03 1005.47Z"/>
<path d="M613.75 1025.46L618.25 1030.71L613.75 1035.96L609.25 1030.71Z"/>
<path d="M635.97 1067.54L640.47 1072.79L635.97 1078.04L631.47 1072.79Z"/>
<path d="M658.19 1101.2L662.69 1106.45L658.19 1111.7L653.69 1106.45Z"/>
<path d="M680.41 1151.69L684.91 1156.94L680.41 1162.19L675.91 1156.94Z"/>
<path d="M702.64 1202.18L707.14 1207.43L702.64 1212.68L698.14 1207.43Z"/>
<path d="M724.86 1244.26L729.36 1249.51L724.86 1254.76L720.36 1249.51Z"/>
<path d="M747.08 1261.09L751.58 1266.34L747.08 1271.59L742.58 1266.34Z"/>
<path d="M769.3 1286.33L773.8 1291.58L769.3 1296.83L764.8 1291.58Z"/>
<path d="M791.52 1319.99L796.02 1325.24L791.52 1330.49L787.02 1325.24Z"/>
<path d="M813.74 1345.23L818.24 1350.48L813.74 1355.73L809.24 1350.48Z"/>
<path d="M835.96 1362.07L840.46 1367.32L835.96 1372.57L831.46 1367.32Z"/>
<path d="M858.18 1378.89L862.68 1384.14L858.18 1389.39L853.68 1384.14Z"/>
<path d="M880.4 1387.31L884.9 1392.56L880.4 1397.81L875.9 1392.56Z"/>
<path d="M902.62 1404.14L907.12 1409.39L902.62 1414.64L898.12 1409.39Z"/>
<path d="M924.84 1420.97L929.34 1426.22L924.84 1431.47L920.34 1426.22Z"/>
<path d="M947.06 1446.21L951.56 1451.46L947.06 1456.71L942.56 1451.46Z"/>
<path d="M969.28 1454.63L973.78 1459.88L969.28 1465.13L964.78 1459.88Z"/>
<path d="M991.5 1454.63L996 1459.88L991.5 1465.13L987 1459.88Z"/>
<path d="M1013.73 1463.05L1018.23 1468.3L1013.73 1473.55L1009.23 1468.3Z"/>
<path d="M1035.95 1454.63L1040.45 1459.88L1035.95 1465.13L1031.45 1459.88Z"/>
<path d="M1058.17 1454.63L1062.67 1459.88L1058.17 1465.13L1053.67 1459.88Z"/>
</g>
<g class="lbl">
<text transform="translate(257.52 1216.05) scale(1.06 1)" font-size="18.4" fill="#2a2a80" stroke="#2a2a80" stroke-width="0.12" text-anchor="start">-0.16</text>
<text transform="translate(435.29 1030.91) scale(1.06 1)" font-size="18.4" fill="#2a2a80" stroke="#2a2a80" stroke-width="0.12" text-anchor="start">0.14</text>
<text transform="translate(524.17 921.52) scale(1.06 1)" font-size="18.4" fill="#2a2a80" stroke="#2a2a80" stroke-width="0.12" text-anchor="start">0.19</text>
<text transform="translate(613.05 938.35) scale(1.06 1)" font-size="18.4" fill="#2a2a80" stroke="#2a2a80" stroke-width="0.12" text-anchor="start">0.19</text>
<text transform="translate(701.94 972.01) scale(1.06 1)" font-size="18.4" fill="#2a2a80" stroke="#2a2a80" stroke-width="0.12" text-anchor="start">0.15</text>
<text transform="translate(790.82 1022.5) scale(1.06 1)" font-size="18.4" fill="#2a2a80" stroke="#2a2a80" stroke-width="0.12" text-anchor="start">0.09</text>
<text transform="translate(879.7 1064.58) scale(1.06 1)" font-size="18.4" fill="#2a2a80" stroke="#2a2a80" stroke-width="0.12" text-anchor="start">0.04</text>
<text transform="translate(968.58 1115.07) scale(1.06 1)" font-size="18.4" fill="#2a2a80" stroke="#2a2a80" stroke-width="0.12" text-anchor="start">-0.02</text>
<text transform="translate(1057.47 1157.14) scale(1.06 1)" font-size="18.4" fill="#2a2a80" stroke="#2a2a80" stroke-width="0.12" text-anchor="start">-0.07</text>
<text transform="translate(257.52 1258.12) scale(1.06 1)" font-size="18.4" fill="#1a1a1a" stroke="#1a1a1a" stroke-width="0.12" text-anchor="start">-0.17</text>
<text transform="translate(346.4 1131.89) scale(1.06 1)" font-size="18.4" fill="#1a1a1a" stroke="#1a1a1a" stroke-width="0.12" text-anchor="start">0</text>
<text transform="translate(435.29 997.26) scale(1.06 1)" font-size="18.4" fill="#1a1a1a" stroke="#1a1a1a" stroke-width="0.12" text-anchor="start">0.15</text>
<text transform="translate(524.17 955.18) scale(1.06 1)" font-size="18.4" fill="#1a1a1a" stroke="#1a1a1a" stroke-width="0.12" text-anchor="start">0.19</text>
<text transform="translate(613.05 980.43) scale(1.06 1)" font-size="18.4" fill="#1a1a1a" stroke="#1a1a1a" stroke-width="0.12" text-anchor="start">0.14</text>
<text transform="translate(701.94 1081.4) scale(1.06 1)" font-size="18.4" fill="#1a1a1a" stroke="#1a1a1a" stroke-width="0.12" text-anchor="start">0.02</text>
<text transform="translate(790.82 1157.14) scale(1.06 1)" font-size="18.4" fill="#1a1a1a" stroke="#1a1a1a" stroke-width="0.12" text-anchor="start">-0.07</text>
<text transform="translate(879.7 1216.05) scale(1.06 1)" font-size="18.4" fill="#1a1a1a" stroke="#1a1a1a" stroke-width="0.12" text-anchor="start">-0.14</text>
<text transform="translate(968.58 1274.95) scale(1.06 1)" font-size="18.4" fill="#1a1a1a" stroke="#1a1a1a" stroke-width="0.12" text-anchor="start">-0.21</text>
<text transform="translate(1057.47 1300.2) scale(1.06 1)" font-size="18.4" fill="#1a1a1a" stroke="#1a1a1a" stroke-width="0.12" text-anchor="start">-0.24</text>
<text transform="translate(257.52 1291.78) scale(1.06 1)" font-size="18.4" fill="#d61d28" stroke="#d61d28" stroke-width="0.12" text-anchor="start">-0.17</text>
<text transform="translate(435.29 929.93) scale(1.06 1)" font-size="18.4" fill="#d61d28" stroke="#d61d28" stroke-width="0.12" text-anchor="start">0.16</text>
<text transform="translate(524.17 997.26) scale(1.06 1)" font-size="18.4" fill="#d61d28" stroke="#d61d28" stroke-width="0.12" text-anchor="start">0.18</text>
<text transform="translate(613.05 1022.5) scale(1.06 1)" font-size="18.4" fill="#d61d28" stroke="#d61d28" stroke-width="0.12" text-anchor="start">0.09</text>
<text transform="translate(701.94 1199.22) scale(1.06 1)" font-size="18.4" fill="#d61d28" stroke="#d61d28" stroke-width="0.12" text-anchor="start">-0.12</text>
<text transform="translate(790.82 1317.03) scale(1.06 1)" font-size="18.4" fill="#d61d28" stroke="#d61d28" stroke-width="0.12" text-anchor="start">-0.26</text>
<text transform="translate(879.7 1384.35) scale(1.06 1)" font-size="18.4" fill="#d61d28" stroke="#d61d28" stroke-width="0.12" text-anchor="start">-0.34</text>
<text transform="translate(968.58 1451.67) scale(1.06 1)" font-size="18.4" fill="#d61d28" stroke="#d61d28" stroke-width="0.12" text-anchor="start">-0.42</text>
<text transform="translate(1057.47 1451.67) scale(1.06 1)" font-size="18.4" fill="#d61d28" stroke="#d61d28" stroke-width="0.12" text-anchor="start">-0.42</text>
</g>
<rect x="236.0" y="854" width="911.05" height="673.2" fill="none" stroke="#2e2e2e" stroke-width="1.35"/>
<path d="M258.22 1527.2v-9.3M258.22 854v9.3M347.1 1527.2v-9.3M347.1 854v9.3M435.99 1527.2v-9.3M435.99 854v9.3M524.87 1527.2v-9.3M524.87 854v9.3M613.75 1527.2v-9.3M613.75 854v9.3M702.64 1527.2v-9.3M702.64 854v9.3M791.52 1527.2v-9.3M791.52 854v9.3M880.4 1527.2v-9.3M880.4 854v9.3M969.28 1527.2v-9.3M969.28 854v9.3M1058.17 1527.2v-9.3M1058.17 854v9.3M236.0 854h9.3M1147.05 854h-9.3M236.0 938.15h9.3M1147.05 938.15h-9.3M236.0 1022.3h9.3M1147.05 1022.3h-9.3M236.0 1106.45h9.3M1147.05 1106.45h-9.3M236.0 1190.6h9.3M1147.05 1190.6h-9.3M236.0 1274.75h9.3M1147.05 1274.75h-9.3M236.0 1358.9h9.3M1147.05 1358.9h-9.3M236.0 1443.05h9.3M1147.05 1443.05h-9.3M236.0 1527.2h9.3M1147.05 1527.2h-9.3" fill="none" stroke="#2e2e2e" stroke-width="1.35"/>
<g class="tick">
<text transform="translate(257.02 1565.7) scale(1.076 1)" font-size="26.0" fill="#3c3c3c" stroke="#3c3c3c" stroke-width="0.3" text-anchor="middle">-4</text>
<text transform="translate(346.3 1565.7) scale(1.076 1)" font-size="26.0" fill="#3c3c3c" stroke="#3c3c3c" stroke-width="0.3" text-anchor="middle">0</text>
<text transform="translate(435.19 1565.7) scale(1.076 1)" font-size="26.0" fill="#3c3c3c" stroke="#3c3c3c" stroke-width="0.3" text-anchor="middle">4</text>
<text transform="translate(524.07 1565.7) scale(1.076 1)" font-size="26.0" fill="#3c3c3c" stroke="#3c3c3c" stroke-width="0.3" text-anchor="middle">8</text>
<text transform="translate(612.95 1565.7) scale(1.076 1)" font-size="26.0" fill="#3c3c3c" stroke="#3c3c3c" stroke-width="0.3" text-anchor="middle">12</text>
<text transform="translate(701.84 1565.7) scale(1.076 1)" font-size="26.0" fill="#3c3c3c" stroke="#3c3c3c" stroke-width="0.3" text-anchor="middle">16</text>
<text transform="translate(790.72 1565.7) scale(1.076 1)" font-size="26.0" fill="#3c3c3c" stroke="#3c3c3c" stroke-width="0.3" text-anchor="middle">20</text>
<text transform="translate(879.6 1565.7) scale(1.076 1)" font-size="26.0" fill="#3c3c3c" stroke="#3c3c3c" stroke-width="0.3" text-anchor="middle">24</text>
<text transform="translate(968.48 1565.7) scale(1.076 1)" font-size="26.0" fill="#3c3c3c" stroke="#3c3c3c" stroke-width="0.3" text-anchor="middle">28</text>
<text transform="translate(1057.37 1565.7) scale(1.076 1)" font-size="26.0" fill="#3c3c3c" stroke="#3c3c3c" stroke-width="0.3" text-anchor="middle">32</text>
<text transform="translate(224.2 865) scale(1.076 1)" font-size="26.0" fill="#3c3c3c" stroke="#3c3c3c" stroke-width="0.3" text-anchor="end">0.3</text>
<text transform="translate(224.2 949.15) scale(1.076 1)" font-size="26.0" fill="#3c3c3c" stroke="#3c3c3c" stroke-width="0.3" text-anchor="end">0.2</text>
<text transform="translate(224.2 1033.3) scale(1.076 1)" font-size="26.0" fill="#3c3c3c" stroke="#3c3c3c" stroke-width="0.3" text-anchor="end">0.1</text>
<text transform="translate(224.2 1117.45) scale(1.076 1)" font-size="26.0" fill="#3c3c3c" stroke="#3c3c3c" stroke-width="0.3" text-anchor="end">0</text>
<text transform="translate(224.2 1201.6) scale(1.076 1)" font-size="26.0" fill="#3c3c3c" stroke="#3c3c3c" stroke-width="0.3" text-anchor="end">-0.1</text>
<text transform="translate(224.2 1285.75) scale(1.076 1)" font-size="26.0" fill="#3c3c3c" stroke="#3c3c3c" stroke-width="0.3" text-anchor="end">-0.2</text>
<text transform="translate(224.2 1369.9) scale(1.076 1)" font-size="26.0" fill="#3c3c3c" stroke="#3c3c3c" stroke-width="0.3" text-anchor="end">-0.3</text>
<text transform="translate(224.2 1454.05) scale(1.076 1)" font-size="26.0" fill="#3c3c3c" stroke="#3c3c3c" stroke-width="0.3" text-anchor="end">-0.4</text>
<text transform="translate(224.2 1538.2) scale(1.076 1)" font-size="26.0" fill="#3c3c3c" stroke="#3c3c3c" stroke-width="0.3" text-anchor="end">-0.5</text>
</g>
<rect x="863.2" y="879.4" width="257" height="104.1" fill="#fff" stroke="#2e2e2e" stroke-width="1.3"/>
<line x1="872" y1="899.2" x2="955.9" y2="899.2" stroke="#2a2a80" stroke-width="1.3"/>
<g fill="none" stroke="#2a2a80" stroke-width="1.8"><rect x="909.75" y="895.25" width="8.7" height="7.9"/></g>
<text transform="translate(962 909) scale(1.095 1)" font-size="23.0" fill="#1c1c1c" stroke="#1c1c1c" stroke-width="0.3" text-anchor="start">Non-Crashes</text>
<line x1="872" y1="931.6" x2="955.9" y2="931.6" stroke="#1a1a1a" stroke-width="1.4"/>
<g fill="#1a1a1a" stroke="#1a1a1a" stroke-width="1.6" stroke-linecap="round"><circle cx="914.1" cy="931.6" r="3.2" stroke="none"/><path d="M910.6 931.6L917.6 931.6M911.63 929.13L916.57 934.07M914.1 928.1L914.1 935.1M916.57 929.13L911.63 934.07"/></g>
<text transform="translate(962 941.9) scale(1.095 1)" font-size="23.0" fill="#1c1c1c" stroke="#1c1c1c" stroke-width="0.3" text-anchor="start">Average</text>
<line x1="872" y1="963.5" x2="955.9" y2="963.5" stroke="#d61d28" stroke-width="1.4"/>
<g fill="none" stroke="#d61d28" stroke-width="1.8"><path d="M914.1 958.25L918.6 963.5L914.1 968.75L909.6 963.5Z"/></g>
<text transform="translate(962 974.2) scale(1.095 1)" font-size="23.0" fill="#1c1c1c" stroke="#1c1c1c" stroke-width="0.3" text-anchor="start">Crashes</text>
</g>
</svg>
<figcaption class="cap" id="cap-a"><span class="w" style="left:612.9px;top:809.65px;font-size:28.0px;transform:scaleX(1.0071)">(a)</span> <span class="w" style="left:651.1px;top:809.65px;font-size:28.0px;transform:scaleX(1.0467)">State</span></figcaption>
<figcaption class="cap" id="cap-b"><span class="w" style="left:611px;top:1583.45px;font-size:28.0px;transform:scaleX(0.9984)">(b)</span> <span class="w" style="left:651.9px;top:1583.45px;font-size:28.0px;transform:scaleX(0.9804)">MSA</span></figcaption>
<figcaption class="cap" id="cap-f"><span class="w" style="left:387.1px;top:1641.47px;font-size:30.0px;transform:scaleX(1.0597)">Figure</span> <span class="w" style="left:478.5px;top:1641.47px;font-size:30.0px;transform:scaleX(0.9811)">2:</span> <span class="w" style="left:512.2px;top:1641.47px;font-size:30.0px;transform:scaleX(1.1079)">Returns</span> <span class="w" style="left:623.8px;top:1641.47px;font-size:30.0px;transform:scaleX(1.0800)">following</span> <span class="w" style="left:759px;top:1641.47px;font-size:30.0px;transform:scaleX(1.0724)">price</span> <span class="w" style="left:833.2px;top:1641.47px;font-size:30.0px;transform:scaleX(1.1401)">run-ups</span></figcaption>
</figure>
</body>
</html>
